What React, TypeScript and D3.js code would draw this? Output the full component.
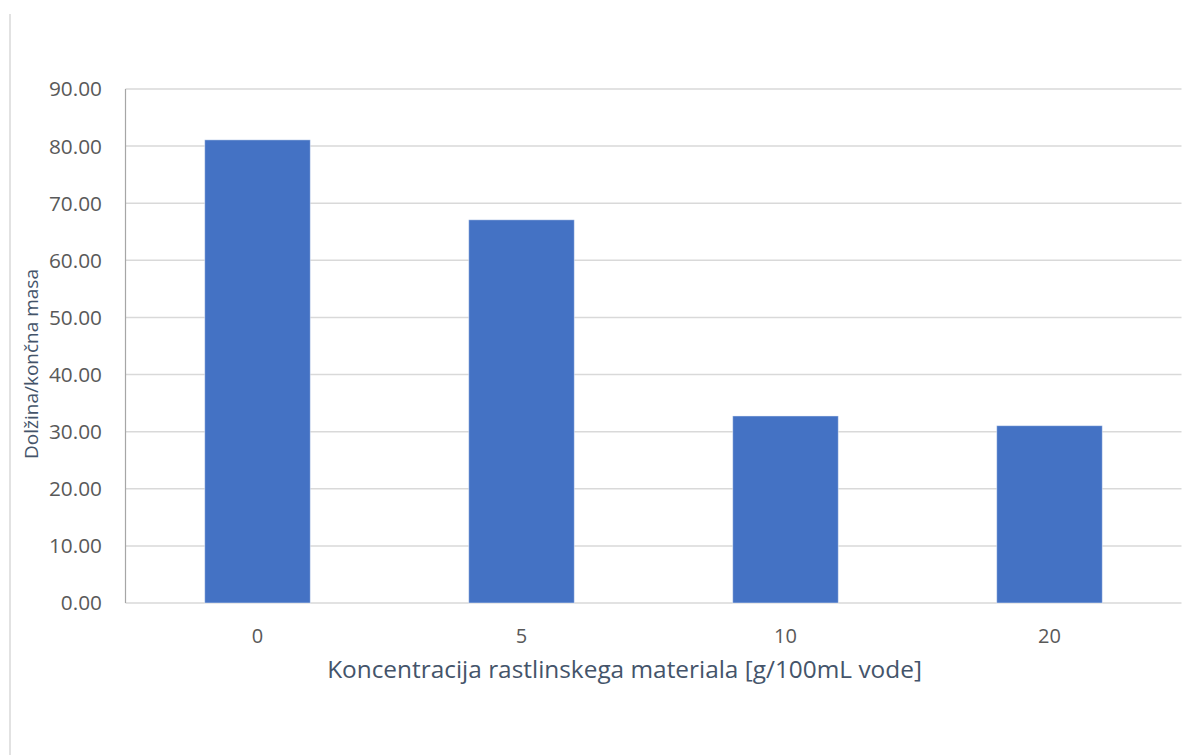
import React from "react";
import * as d3 from "d3";

// Koncentracija rastlinskega materiala vs. dolžina/končna masa
const categories: string[] = ["0", "5", "10", "20"];
const values: number[] = [81.1, 67.1, 32.75, 31.05];
const yTicks: number[] = [0, 10, 20, 30, 40, 50, 60, 70, 80, 90];

const xTitle = "Koncentracija rastlinskega materiala [g/100mL vode]";
const yTitle = "Dolžina/končna masa";

const W = 1188;
const H = 755;
const plot = { left: 125.5, right: 1181.5, top: 89, bottom: 603 };
const FONT = "'Open Sans', 'Noto Sans', sans-serif";

export default function App() {
  const x = d3
    .scaleBand<string>()
    .domain(categories)
    .range([plot.left, plot.right])
    .padding(0);
  const y = d3.scaleLinear().domain([0, 90]).range([plot.bottom, plot.top]);
  const barW = x.bandwidth() * 0.4;
  const fmt = d3.format(".2f");

  return (
    <svg
      width={W}
      height={H}
      style={{ position: "absolute", left: 0, top: 0, background: "#fff" }}
      fontFamily={FONT}
    >
      {/* chart frame edge on the left */}
      <line x1={10} x2={10} y1={14} y2={H} stroke="#d9d9d9" strokeWidth={1.5} />

      {/* gridlines */}
      {yTicks.map((t) => (
        <line
          key={"g" + t}
          x1={plot.left}
          x2={plot.right}
          y1={y(t)}
          y2={y(t)}
          stroke="#d9d9d9"
          strokeWidth={1.5}
        />
      ))}

      {/* bars */}
      {values.map((v, i) => {
        const cx = (x(categories[i]) as number) + x.bandwidth() / 2;
        return (
          <rect
            key={"b" + i}
            x={cx - barW / 2}
            y={y(v)}
            width={barW}
            height={y(0) - y(v)}
            fill="#4472C4"
            stroke="#ffffff"
            strokeOpacity={0.45}
            strokeWidth={1}
          />
        );
      })}

      {/* y axis line */}
      <line
        x1={plot.left}
        x2={plot.left}
        y1={plot.top}
        y2={plot.bottom}
        stroke="#a6a6a6"
        strokeWidth={1.2}
      />

      {/* y tick labels */}
      {yTicks.map((t) => (
        <text
          key={"yt" + t}
          x={102}
          y={y(t)}
          dy="0.36em"
          textAnchor="end"
          fontSize={20.8}
          fill="#595959"
        >
          {fmt(t)}
        </text>
      ))}

      {/* x tick labels */}
      {categories.map((c) => (
        <text
          key={"xt" + c}
          x={(x(c) as number) + x.bandwidth() / 2}
          y={643}
          textAnchor="middle"
          fontSize={20}
          fill="#595959"
        >
          {c}
        </text>
      ))}

      {/* axis titles */}
      <text
        x={624.5}
        y={678}
        textAnchor="middle"
        fontSize={24.4}
        fill="#44546A"
      >
        {xTitle}
      </text>
      <text
        transform={`translate(38, 364) rotate(-90)`}
        textAnchor="middle"
        fontSize={19}
        fill="#44546A"
      >
        {yTitle}
      </text>
    </svg>
  );
}
